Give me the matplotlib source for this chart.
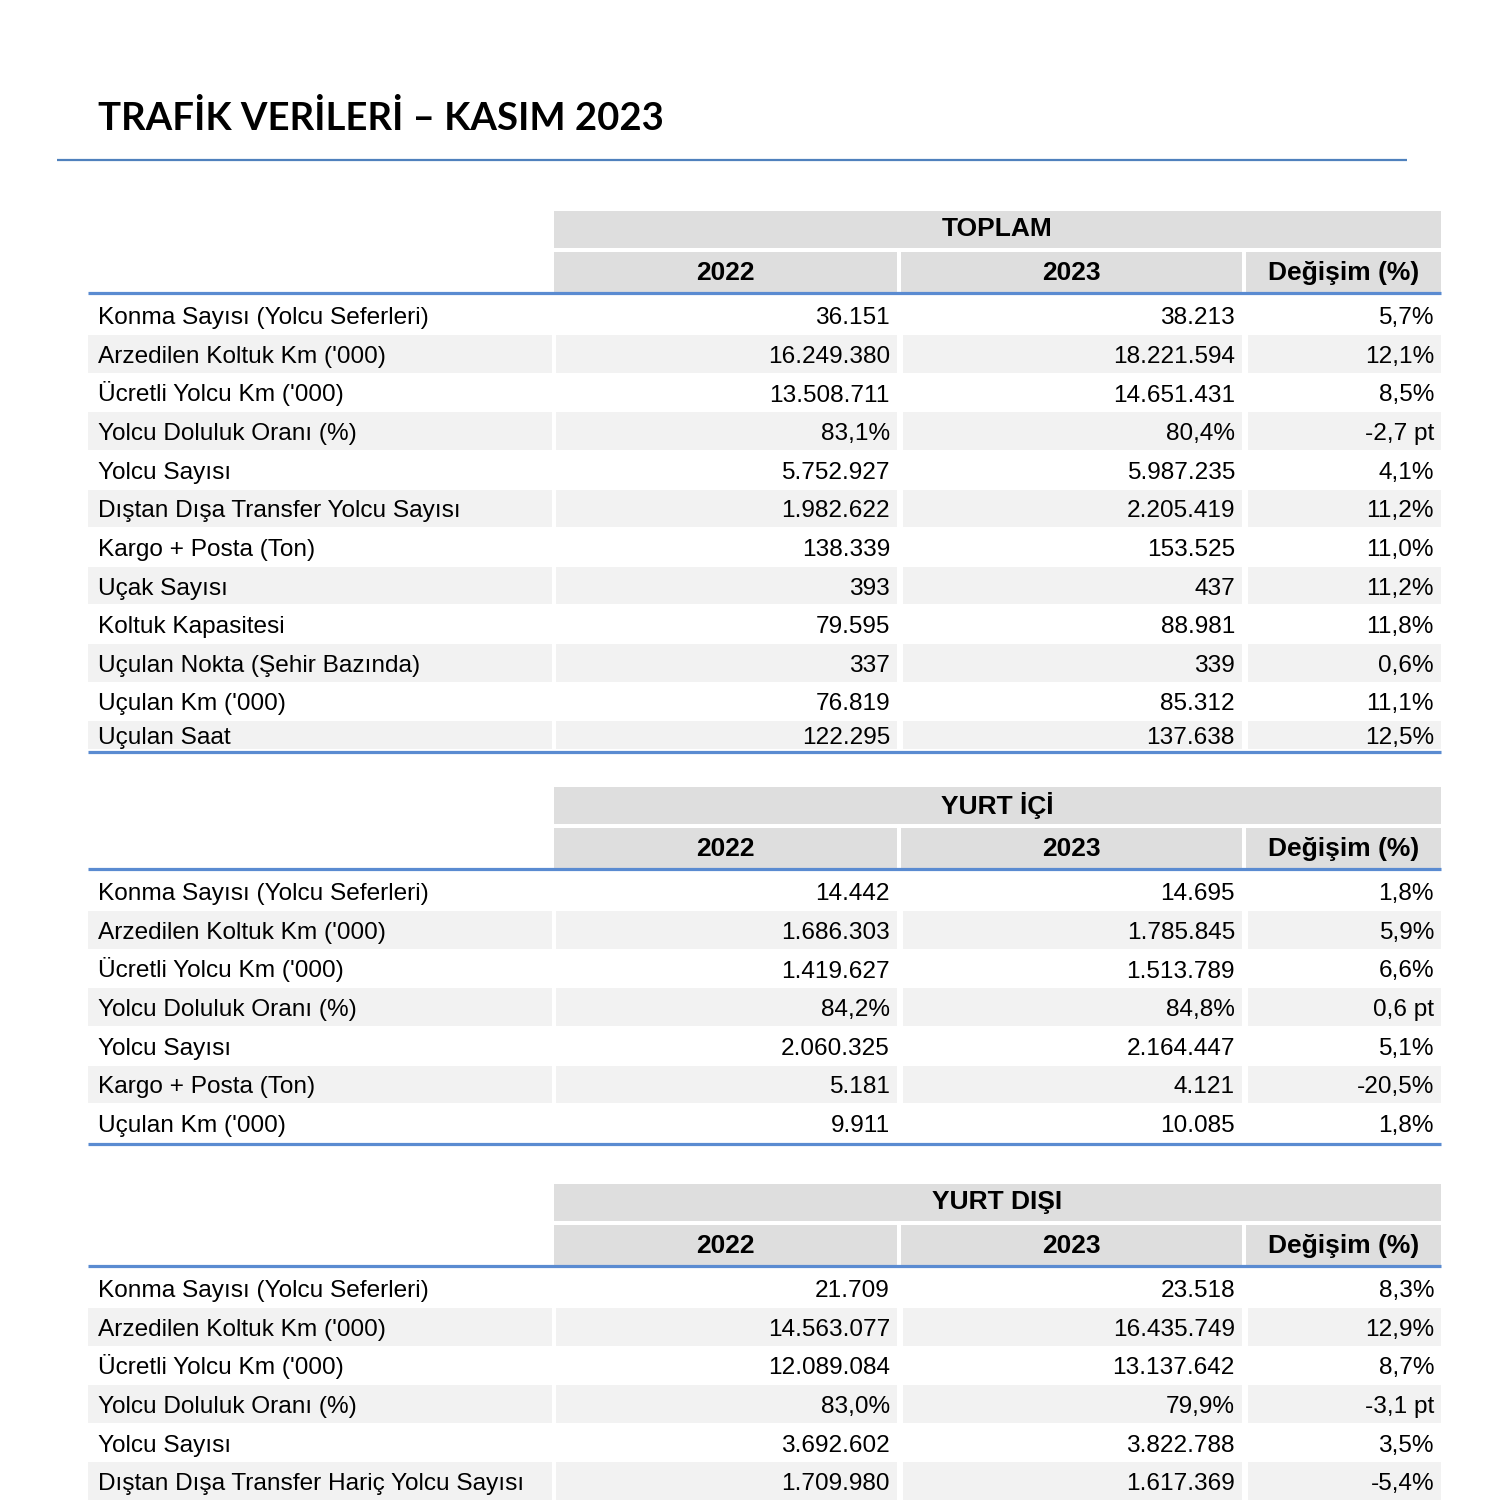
import matplotlib.pyplot as plt
from matplotlib.patches import Rectangle

title = "TRAFİK VERİLERİ – KASIM 2023"
col_headers = ["2022", "2023", "Değişim (%)"]

toplam_labels = ["Konma Sayısı (Yolcu Seferleri)", "Arzedilen Koltuk Km ('000)", "Ücretli Yolcu Km ('000)",
                 "Yolcu Doluluk Oranı (%)", "Yolcu Sayısı", "Dıştan Dışa Transfer Yolcu Sayısı",
                 "Kargo + Posta (Ton)", "Uçak Sayısı", "Koltuk Kapasitesi", "Uçulan Nokta (Şehir Bazında)",
                 "Uçulan Km ('000)", "Uçulan Saat"]
toplam_2022 = ["36.151", "16.249.380", "13.508.711", "83,1%", "5.752.927", "1.982.622",
               "138.339", "393", "79.595", "337", "76.819", "122.295"]
toplam_2023 = ["38.213", "18.221.594", "14.651.431", "80,4%", "5.987.235", "2.205.419",
               "153.525", "437", "88.981", "339", "85.312", "137.638"]
toplam_chg = ["5,7%", "12,1%", "8,5%", "-2,7 pt", "4,1%", "11,2%",
              "11,0%", "11,2%", "11,8%", "0,6%", "11,1%", "12,5%"]

ic_labels = ["Konma Sayısı (Yolcu Seferleri)", "Arzedilen Koltuk Km ('000)", "Ücretli Yolcu Km ('000)",
             "Yolcu Doluluk Oranı (%)", "Yolcu Sayısı", "Kargo + Posta (Ton)", "Uçulan Km ('000)"]
ic_2022 = ["14.442", "1.686.303", "1.419.627", "84,2%", "2.060.325", "5.181", "9.911"]
ic_2023 = ["14.695", "1.785.845", "1.513.789", "84,8%", "2.164.447", "4.121", "10.085"]
ic_chg = ["1,8%", "5,9%", "6,6%", "0,6 pt", "5,1%", "-20,5%", "1,8%"]

dis_labels = ["Konma Sayısı (Yolcu Seferleri)", "Arzedilen Koltuk Km ('000)", "Ücretli Yolcu Km ('000)",
              "Yolcu Doluluk Oranı (%)", "Yolcu Sayısı", "Dıştan Dışa Transfer Hariç Yolcu Sayısı"]
dis_2022 = ["21.709", "14.563.077", "12.089.084", "83,0%", "3.692.602", "1.709.980"]
dis_2023 = ["23.518", "16.435.749", "13.137.642", "79,9%", "3.822.788", "1.617.369"]
dis_chg = ["8,3%", "12,9%", "8,7%", "-3,1 pt", "3,5%", "-5,4%"]

BLUE = '#5a8bd1'
HEAD = '#dedede'
ROWG = '#f2f2f2'
BODY_FONT = 'Liberation Sans'

# kolonlar: (sol, sag)
cols = [(554, 897), (901, 1242), (1246, 1441)]
label_cell = (88, 552)
pitch = 38.6

fig = plt.figure(figsize=(15, 15), dpi=100)
ax = fig.add_axes([0, 0, 1, 1])
ax.set_xlim(0, 1500)
ax.set_ylim(1500, 0)
ax.axis('off')

ax.text(98, 130, title, fontsize=27.5, fontweight='bold', family='Lato', ha='left', va='baseline')
ax.plot([57, 1407], [160, 160], color='#4f81bd', lw=1.6, solid_capstyle='butt')


def draw_table(name, line_y, labels, v22, v23, chg, last_h=None):
    # naglowek
    ax.add_patch(Rectangle((554, line_y - 82), 1441 - 554, 37, color=HEAD, lw=0))
    ax.text((554 + 1441) / 2, line_y - 63.5, name, fontsize=19, fontweight='bold',
            family=BODY_FONT, ha='center', va='center')
    for (x0, x1), h in zip(cols, col_headers):
        ax.add_patch(Rectangle((x0, line_y - 41), x1 - x0, 40, color=HEAD, lw=0))
        ax.text((x0 + x1) / 2, line_y - 13, h, fontsize=19, fontweight='bold',
                family=BODY_FONT, ha='center', va='baseline')
    ax.plot([88, 1441], [line_y, line_y], color=BLUE, lw=2.3, solid_capstyle='butt')

    top = line_y + 3
    n = len(labels)
    for i in range(n):
        h = pitch
        if i == n - 1 and last_h is not None:
            h = last_h
        if i % 2 == 1:
            ax.add_patch(Rectangle((label_cell[0], top + 0.5), label_cell[1] - label_cell[0], h - 1,
                                   color=ROWG, lw=0))
            for x0, x1 in cols:
                ax.add_patch(Rectangle((x0 + 2, top + 0.5), x1 - x0 - 2, h - 1, color=ROWG, lw=0))
        base = top + h / 2 + 9
        ax.text(98, base, labels[i], fontsize=17.6, family=BODY_FONT, ha='left', va='baseline')
        for (x0, x1), v in zip(cols, [v22[i], v23[i], chg[i]]):
            ax.text(x1 - 7, base, v, fontsize=17.6, family=BODY_FONT, ha='right', va='baseline')
        top += h
    ax.plot([88, 1441], [top + 2, top + 2], color=BLUE, lw=2.3, solid_capstyle='butt')


draw_table("TOPLAM", 293, toplam_labels, toplam_2022, toplam_2023, toplam_chg, last_h=29)
draw_table("YURT İÇİ", 869, ic_labels, ic_2022, ic_2023, ic_chg)
draw_table("YURT DIŞI", 1266, dis_labels, dis_2022, dis_2023, dis_chg)

fig.savefig('out.png', dpi=100, facecolor='white')
